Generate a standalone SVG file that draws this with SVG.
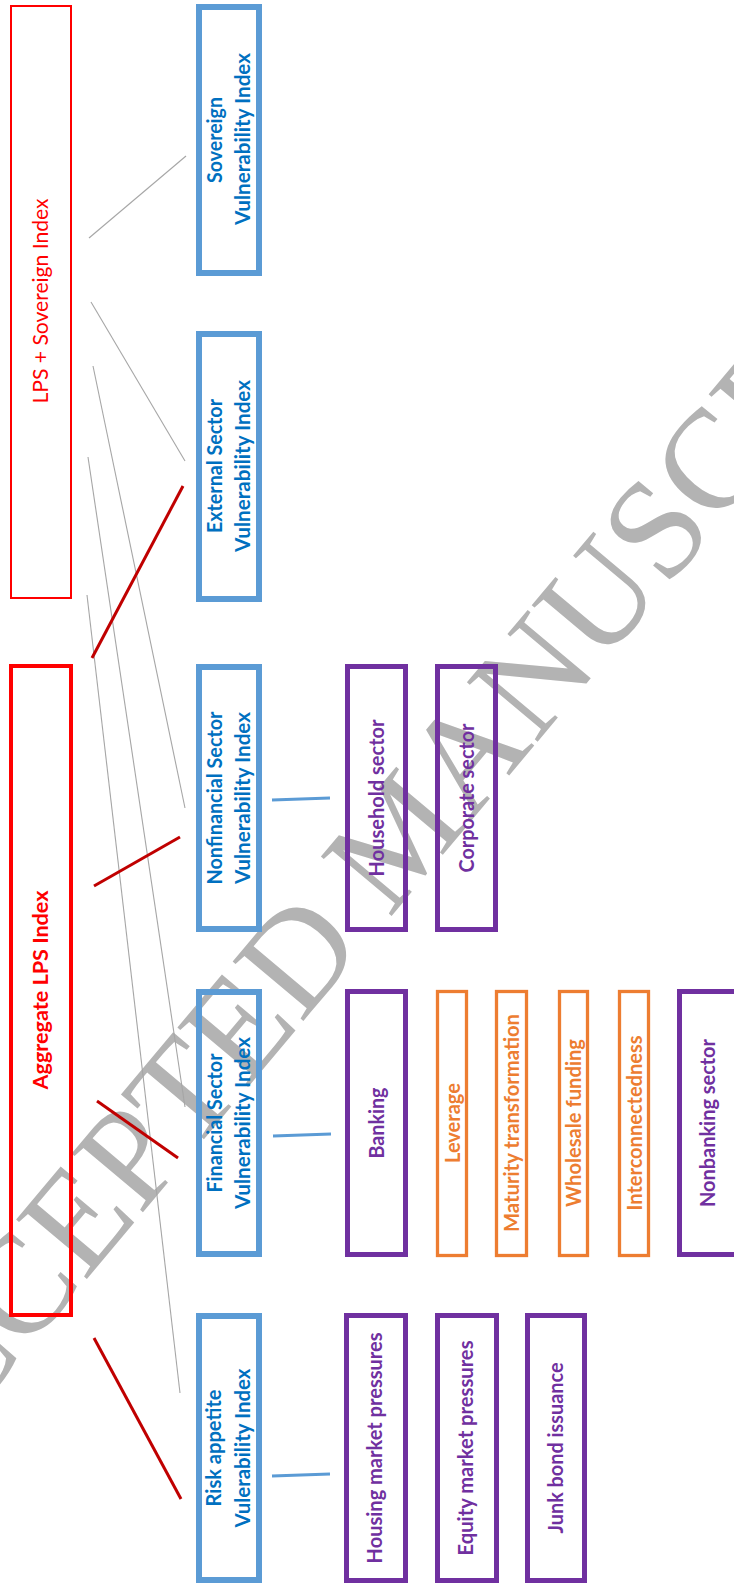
<svg xmlns="http://www.w3.org/2000/svg" width="734" height="1585" viewBox="0 0 734 1585">
<defs>
<style>
.bg{fill:#fff}
.wm{font-family:"Liberation Serif","Times New Roman",serif;font-size:141px;fill:#B3B3B3}
.redthin{fill:none;stroke:#FF0000;stroke-width:2}
.redthick{fill:none;stroke:#FF0000;stroke-width:4}
.blue{fill:none;stroke:#5B9BD5;stroke-width:6}
.purple{fill:none;stroke:#7030A0;stroke-width:5}
.orange{fill:none;stroke:#ED7D31;stroke-width:3.3}
.t{font-family:Lato,"Open Sans","Liberation Sans",sans-serif;font-size:21px;font-weight:bold;text-anchor:middle}
.tb{fill:#0070C0}
.tp{fill:#7030A0}
.to{fill:#ED7D31}
.tr{fill:#FF0000}
.reg{font-weight:normal;font-size:21px}
.grey{stroke:#A6A6A6;stroke-width:1.1;fill:none}
.dred{stroke:#C00000;stroke-width:3;fill:none}
.bl{stroke:#5B9BD5;stroke-width:3;fill:none}
</style>
</defs>
<rect class="bg" x="0" y="0" width="734" height="1585"/>
<text class="wm" transform="translate(-102,1504) rotate(-50)">ACCEPTED MANUSCRIPT</text>

<g id="connectors">
<line class="grey" x1="89" y1="238" x2="186" y2="156"/>
<line class="grey" x1="91" y1="302" x2="185" y2="461"/>
<line class="grey" x1="93" y1="366" x2="185" y2="808"/>
<line class="grey" x1="88" y1="457" x2="185" y2="1107"/>
<line class="grey" x1="87" y1="595" x2="180" y2="1393"/>
<line class="dred" x1="92" y1="658" x2="183" y2="486"/>
<line class="dred" x1="94" y1="886" x2="180" y2="837"/>
<line class="dred" x1="97" y1="1101" x2="178" y2="1158"/>
<line class="dred" x1="94" y1="1338" x2="181" y2="1499"/>
<line class="bl" x1="272" y1="800" x2="330" y2="798"/>
<line class="bl" x1="273" y1="1136" x2="331" y2="1134"/>
<line class="bl" x1="272" y1="1476" x2="330" y2="1474"/>
</g>

<g id="lps-sovereign">
<rect class="redthin" x="11" y="6" width="60" height="592"/>
<text class="t tr reg" transform="translate(48,301) rotate(-90)" textLength="205" lengthAdjust="spacingAndGlyphs">LPS + Sovereign Index</text>
</g>
<g id="aggregate">
<rect class="redthick" x="11" y="666" width="60" height="649"/>
<text class="t tr" font-size="22" transform="translate(48,990) rotate(-90)" textLength="199" lengthAdjust="spacingAndGlyphs">Aggregate LPS Index</text>
</g>

<g id="sovereign">
<rect class="blue" x="199" y="7" width="60" height="266"/>
<text class="t tb" transform="translate(222,140) rotate(-90)" textLength="86" lengthAdjust="spacingAndGlyphs">Sovereign</text>
<text class="t tb" transform="translate(250,139) rotate(-90)" textLength="172" lengthAdjust="spacingAndGlyphs">Vulnerability Index</text>
</g>
<g id="external">
<rect class="blue" x="199" y="334" width="60" height="265"/>
<text class="t tb" transform="translate(222,466) rotate(-90)" textLength="134" lengthAdjust="spacingAndGlyphs">External Sector</text>
<text class="t tb" transform="translate(250,466) rotate(-90)" textLength="172" lengthAdjust="spacingAndGlyphs">Vulnerability Index</text>
</g>
<g id="nonfinancial">
<rect class="blue" x="199" y="667" width="60" height="262"/>
<text class="t tb" transform="translate(222,798) rotate(-90)" textLength="173" lengthAdjust="spacingAndGlyphs">Nonfinancial Sector</text>
<text class="t tb" transform="translate(250,798) rotate(-90)" textLength="172" lengthAdjust="spacingAndGlyphs">Vulnerability Index</text>
</g>
<g id="financial">
<rect class="blue" x="199" y="992" width="60" height="262"/>
<text class="t tb" transform="translate(222,1123) rotate(-90)" textLength="139" lengthAdjust="spacingAndGlyphs">Financial Sector</text>
<text class="t tb" transform="translate(250,1123) rotate(-90)" textLength="172" lengthAdjust="spacingAndGlyphs">Vulnerability Index</text>
</g>
<g id="risk">
<rect class="blue" x="199" y="1316" width="60" height="264"/>
<text class="t tb" transform="translate(221,1448) rotate(-90)" textLength="117" lengthAdjust="spacingAndGlyphs">Risk appetite</text>
<text class="t tb" transform="translate(250,1448) rotate(-90)" textLength="159" lengthAdjust="spacingAndGlyphs">Vulerability Index</text>
</g>

<g id="household">
<rect class="purple" x="347.5" y="666.5" width="58" height="263"/>
<text class="t tp" transform="translate(384,798) rotate(-90)" textLength="157" lengthAdjust="spacingAndGlyphs">Household sector</text>
</g>
<g id="corporate">
<rect class="purple" x="437.5" y="666.5" width="58" height="263"/>
<text class="t tp" transform="translate(473.5,798) rotate(-90)" textLength="149" lengthAdjust="spacingAndGlyphs">Corporate sector</text>
</g>
<g id="banking">
<rect class="purple" x="347.5" y="991.5" width="58" height="263"/>
<text class="t tp" transform="translate(383.5,1123) rotate(-90)" textLength="71" lengthAdjust="spacingAndGlyphs">Banking</text>
</g>
<g id="leverage">
<rect class="orange" x="437.5" y="991.5" width="29" height="264"/>
<text class="t to" transform="translate(459.5,1123) rotate(-90)" textLength="80" lengthAdjust="spacingAndGlyphs">Leverage</text>
</g>
<g id="maturity">
<rect class="orange" x="496.5" y="991.5" width="30" height="264"/>
<text class="t to" transform="translate(518.5,1123) rotate(-90)" textLength="218" lengthAdjust="spacingAndGlyphs">Maturity transformation</text>
</g>
<g id="wholesale">
<rect class="orange" x="559.5" y="991.5" width="28" height="264"/>
<text class="t to" transform="translate(580.5,1123) rotate(-90)" textLength="168" lengthAdjust="spacingAndGlyphs">Wholesale funding</text>
</g>
<g id="interconnectedness">
<rect class="orange" x="619.5" y="991.5" width="29" height="264"/>
<text class="t to" transform="translate(641.5,1123) rotate(-90)" textLength="175" lengthAdjust="spacingAndGlyphs">Interconnectedness</text>
</g>
<g id="nonbanking">
<rect class="purple" x="679.5" y="991.5" width="58" height="263"/>
<text class="t tp" transform="translate(714.5,1123) rotate(-90)" textLength="168" lengthAdjust="spacingAndGlyphs">Nonbanking sector</text>
</g>
<g id="housing">
<rect class="purple" x="346.5" y="1315.5" width="59" height="265"/>
<text class="t tp" transform="translate(382,1448) rotate(-90)" textLength="231" lengthAdjust="spacingAndGlyphs">Housing market pressures</text>
</g>
<g id="equity">
<rect class="purple" x="437.5" y="1315.5" width="59" height="265"/>
<text class="t tp" transform="translate(473,1448) rotate(-90)" textLength="215" lengthAdjust="spacingAndGlyphs">Equity market pressures</text>
</g>
<g id="junk">
<rect class="purple" x="527.5" y="1315.5" width="57" height="265"/>
<text class="t tp" transform="translate(562.5,1448) rotate(-90)" textLength="171" lengthAdjust="spacingAndGlyphs">Junk bond issuance</text>
</g>
</svg>
